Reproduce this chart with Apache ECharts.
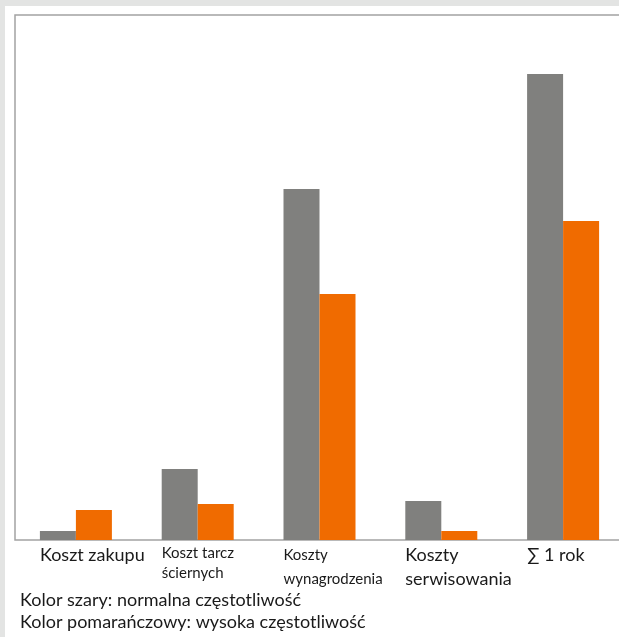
<!DOCTYPE html>
<html>
<head>
<meta charset="utf-8">
<script src="https://cdn.jsdelivr.net/npm/echarts@6/dist/echarts.min.js"></script>
<style>
  html, body { margin: 0; padding: 0; background: #e3e4e3; }
  #chart { position: absolute; left: 5px; top: 6px; width: 614px; height: 631px; background: #ffffff; }
</style>
</head>
<body>
<div id="chart"></div>
<script>
// Cost categories and their label style (big / small text)
const categories = ['Koszt zakupu', 'Koszt tarcz\nściernych', 'Koszty\nwynagrodzenia', 'Koszty\nserwisowania', '∑ 1 rok'];
const labelSize = ['big', 'smallTight', 'small', 'big', 'big'];

// Yearly costs, normal vs. high frequency
const normalFreq = [9, 71, 351, 39, 466];
const highFreq = [30, 36, 246, 9, 319];

const legendLines = [
  'Kolor szary: normalna częstotliwość',
  'Kolor pomarańczowy: wysoka częstotliwość'
];

const FONT = 'Lato, "DejaVu Sans", sans-serif';
const TEXT = '#1a1a1a';
const chart = echarts.init(document.getElementById('chart'));

chart.setOption({
  animation: false,
  textStyle: { fontFamily: FONT },
  grid: {
    left: 10, top: 9, width: 609, bottom: 97,
    outerBoundsMode: 'none',
    containLabel: false,
    show: true, borderColor: '#a3a3a3', borderWidth: 1.5, backgroundColor: 'transparent'
  },
  xAxis: {
    type: 'category',
    data: categories,
    axisLine: { show: false },
    axisTick: { show: false },
    axisLabel: {
      interval: 0,
      margin: 3,
      width: 72,
      align: 'center',
      verticalAlign: 'top',
      overflow: 'none',
      color: TEXT,
      formatter: function (value, idx) {
        const key = labelSize[idx];
        return value.split('\n').map(s => '{' + key + '|' + s + '}').join('\n');
      },
      rich: {
        big: { fontSize: 18, lineHeight: 24, align: 'left', fontFamily: FONT, color: TEXT },
        small: { fontSize: 15, lineHeight: 24, align: 'left', fontFamily: FONT, color: TEXT },
        smallTight: { fontSize: 15, lineHeight: 20, align: 'left', fontFamily: FONT, color: TEXT }
      }
    }
  },
  yAxis: {
    type: 'value', min: 0, max: 525,
    show: false,
    splitLine: { show: false }
  },
  series: [
    {
      type: 'bar', data: normalFreq, barWidth: 36, barGap: '0%',
      itemStyle: { color: '#80807e' }
    },
    {
      type: 'bar', data: highFreq, barWidth: 36, barGap: '0%',
      itemStyle: { color: '#f06b00' }
    }
  ],
  graphic: legendLines.map((t, i) => ({
    type: 'text',
    left: 15,
    top: 585 + i * 22,
    style: { text: t, fontSize: 18, fontFamily: FONT, fill: TEXT }
  }))
});
</script>
</body>
</html>
